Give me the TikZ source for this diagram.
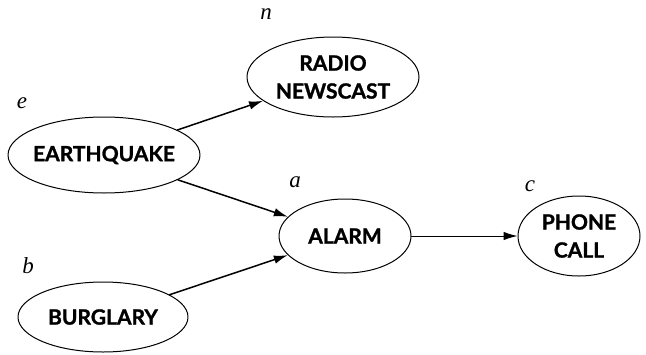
\documentclass[tikz,border=0pt]{standalone}
\usepackage{fontspec}
\setmainfont{Lato}[BoldFeatures={FakeBold=1.3}]
\newfontfamily\lblfont{Liberation Serif}
\usetikzlibrary{shapes.geometric, arrows.meta}
\definecolor{ink}{HTML}{000000}
\tikzset{el/.style={line cap=round, line join=round},
  evnode/.style={ellipse, draw=ink, line width=1pt, inner xsep=-30pt, inner ysep=-10pt, align=center,
    font=\fontsize{21}{28}\selectfont\bfseries},
  evlbl/.style={font=\fontsize{23}{23}\selectfont\lblfont\itshape, inner sep=0pt},
  infl/.style={-{Latex[length=14pt,width=8.5pt]}, line width=1.5pt, ink}}

\begin{document}
\begin{tikzpicture}[el, x=1pt, y=-1pt]
  \useasboundingbox (0,0) rectangle (646,354);
  \node[evnode, minimum width=172, minimum height=80] (radio) at (333,77) {RADIO\\NEWSCAST};
  \node[evnode, minimum width=192, minimum height=76] (quake) at (104,155) {EARTHQUAKE};
  \node[evnode, minimum width=132, minimum height=74] (alarm) at (345,236) {ALARM};
  \node[evnode, minimum width=122, minimum height=80] (phone) at (579,236) {PHONE\\CALL};
  \node[evnode, minimum width=170, minimum height=70] (burgl) at (103,317) {BURGLARY};
  \foreach \nm/\x/\y in {n/266/14, e/22/103, a/295/182, c/530/186, b/28/266}
     \node[evlbl] (l\nm) at (\x,\y) {\nm};
  \draw[infl] (quake) -- (radio);
  \draw[infl] (quake) -- (alarm);
  \draw[infl] (burgl) -- (alarm);
  \draw[infl, line width=1pt] (alarm) -- (phone);
\end{tikzpicture}
\end{document}
